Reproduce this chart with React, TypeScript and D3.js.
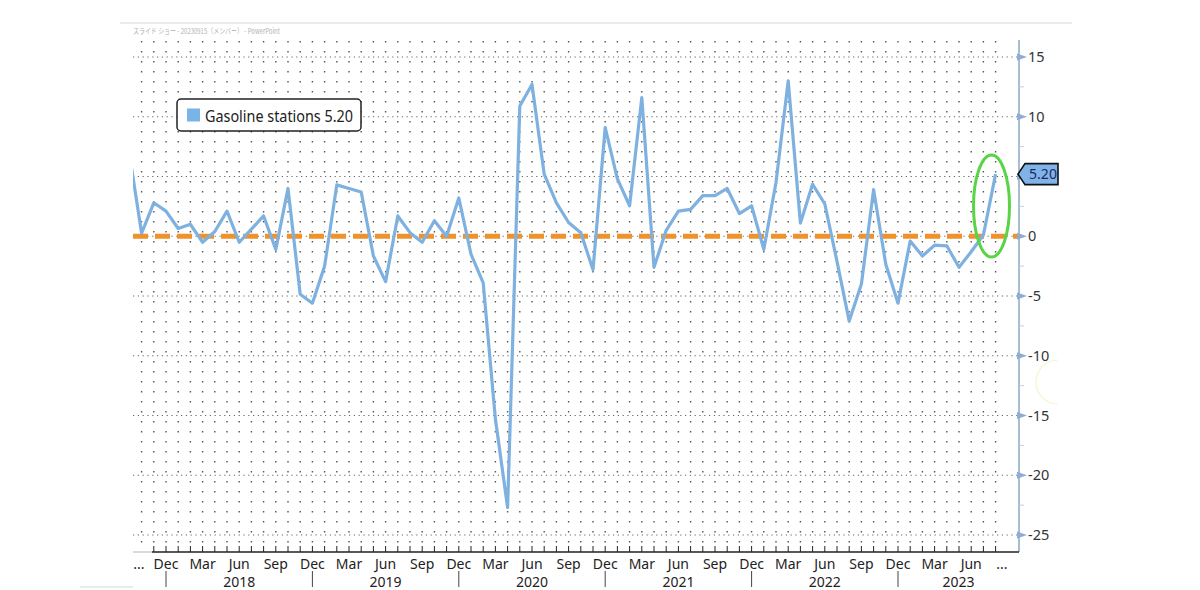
import React from "react";
import * as d3 from "d3";

// Months from Sep 2017 to Aug 2023 (index 0 = Sep 2017)
const startYear = 2017;
const startMonth = 8; // 0-based: September
const values: number[] = [
  6.9, 0.25, 2.8, 2.1,
  0.65, 1.0, -0.5, 0.4, 2.1, -0.5, 0.6, 1.7, -1.1, 4.0, -4.85, -5.6,
  -2.5, 4.3, 4.0, 3.7, -1.65, -3.8, 1.7, 0.3, -0.5, 1.3, 0.0, 3.2,
  -1.5, -3.9, -15.3, -22.7, 10.9, 12.7, 5.2, 2.8, 1.15, 0.3, -2.8, 9.1,
  4.8, 2.55, 11.6, -2.6, 0.5, 2.1, 2.25, 3.4, 3.4, 4.0, 1.9, 2.55,
  -1.1, 4.5, 13.0, 1.1, 4.35, 2.7, -2.1, -7.1, -4.0, 3.9, -2.35, -5.6,
  -0.4, -1.65, -0.75, -0.8, -2.6, -1.3, 0.1, 5.2,
];
const monthNames = ["Jan","Feb","Mar","Apr","May","Jun","Jul","Aug","Sep","Oct","Nov","Dec"];
const labelMonths = ["Dec", "Mar", "Jun", "Sep"];
const years = [2018, 2019, 2020, 2021, 2022, 2023];
const yTicks = [15, 10, 5, 0, -5, -10, -15, -20, -25];
const yTickLabels = [15, 10, 0, -5, -10, -15, -20, -25]; // the 5 label sits under the value tag
const yMinorTicks = [12.5, 7.5, 2.5, -2.5, -7.5, -12.5, -17.5, -22.5];
const seriesName = "Gasoline stations";
const lastValueLabel = "5.20";
const headerText = "スライド ショー - 20230915（メンバー） - PowerPoint";

const FONT = "'Noto Sans', 'Open Sans', sans-serif";

export default function App() {
  const left = 133, right = 1019, top = 40, bottom = 552;
  // index 3 = Dec 2017, index 63 = Dec 2022
  const x = d3.scaleLinear().domain([3, 63]).range([166, 898]);
  const y = d3.scaleLinear().domain([-25, 15]).range([535, 57]);

  const pts = values.map((v, i) => ({ i, v }));
  const line = d3.line<{ i: number; v: number }>().x(d => x(d.i)).y(d => y(d.v));

  const monthInfo = values.map((_, i) => {
    const m = (startMonth + i) % 12;
    const yr = startYear + Math.floor((startMonth + i) / 12);
    return { i, m, yr, name: monthNames[m] };
  });
  const visibleMonths = monthInfo.filter(d => x(d.i) >= left);
  const tickMonths = monthInfo.filter(d => x(d.i) >= 150);
  const labelled = monthInfo.filter(d => labelMonths.includes(d.name) && x(d.i) >= 150);
  const decs = monthInfo.filter(d => d.name === "Dec");

  const yearLabelX = (yr: number) => {
    const a = monthInfo.find(d => d.yr === yr - 1 && d.m === 11)!;
    const b = monthInfo.find(d => d.yr === yr && d.m === 11);
    const xa = x(a.i);
    const xb = b ? x(b.i) : right;
    return (xa + xb) / 2;
  };

  const last = pts[pts.length - 1];
  const lastY = y(last.v);
  const tagX = right - 1;

  const ellCx = (x(last.i) + x(last.i - 1)) / 2 + 2;

  return (
    <svg width={1200} height={590} style={{ position: "absolute", left: 0, top: 0, background: "#fff" }}>
      <defs>
        <clipPath id="plotClip">
          <rect x={left} y={top} width={right - left} height={bottom - top} />
        </clipPath>
      </defs>
      {/* frame lines */}
      <line x1={120} x2={1072} y1={23} y2={23} stroke="#d8d8d8" strokeWidth={1.2} />
      <line x1={80} x2={133} y1={587} y2={587} stroke="#d8d8d8" strokeWidth={1.2} />
      <text x={133} y={34} fontSize={7.5} fill="#b0b0b0" fontFamily="'Noto Sans CJK JP', sans-serif" textLength={147} lengthAdjust="spacingAndGlyphs">{headerText}</text>

      {/* vertical dotted month grid */}
      {visibleMonths.map(d => (
        <line key={"v" + d.i} x1={x(d.i)} x2={x(d.i)} y1={top + 1} y2={bottom - 6} stroke="#555" strokeWidth={1.4} strokeDasharray="1.4,8.6" />
      ))}
      {/* horizontal dotted major grid */}
      {yTicks.map(t => (
        <line key={"h" + t} x1={left} x2={right} y1={y(t)} y2={y(t)} stroke="#666" strokeWidth={1.2} strokeDasharray="1.2,3.6" />
      ))}

      {/* zero line */}
      <line x1={left} x2={right} y1={y(0)} y2={y(0)} stroke="#f0922b" strokeWidth={5} strokeDasharray="15,7" />

      {/* series line */}
      <g clipPath="url(#plotClip)">
        <path d={line(pts) || ""} fill="none" stroke="#7eb1df" strokeWidth={3.2} strokeLinejoin="round" />
      </g>

      {/* green highlight ellipse */}
      <ellipse cx={ellCx} cy={206} rx={18} ry={51} fill="none" stroke="#5ad447" strokeWidth={3} />

      {/* right axis */}
      <line x1={right} x2={right} y1={top} y2={bottom} stroke="#a8bdd4" strokeWidth={2} />
      {yMinorTicks.map(t => (
        <line key={"mt" + t} x1={right} x2={right + 5} y1={y(t)} y2={y(t)} stroke="#c4cfdc" strokeWidth={1} />
      ))}
      {yTicks.map(t => (
        <path key={"yt" + t} d={`M${right - 2},${y(t) - 3.5} L${right + 8},${y(t)} L${right - 2},${y(t) + 3.5} Z`} fill="#8fadd2" />
      ))}
      {yTickLabels.map(t => (
        <text key={"yl" + t} x={right + 9} y={y(t) + 5} fontSize={14.5} fill="#333" fontFamily={FONT}>{t < 0 ? "-" + Math.abs(t) : String(t)}</text>
      ))}

      {/* last value tag */}
      <path d={`M${tagX},${lastY} L${tagX + 7},${lastY - 10.5} L${1058},${lastY - 10.5} L${1058},${lastY + 10.5} L${tagX + 7},${lastY + 10.5} Z`} fill="#80b3e8" stroke="#111" strokeWidth={1.6} />
      <text x={1043} y={lastY + 5} fontSize={14} fill="#1c2a66" textAnchor="middle" fontFamily={FONT}>{lastValueLabel}</text>

      {/* bottom axis */}
      <line x1={left} x2={152} y1={bottom} y2={bottom} stroke="#cfcfcf" strokeWidth={1.5} />
      <line x1={152} x2={right} y1={bottom} y2={bottom} stroke="#222" strokeWidth={1.6} />
      {tickMonths.map(d => (
        <line key={"xt" + d.i} x1={x(d.i)} x2={x(d.i)} y1={bottom - 6} y2={bottom} stroke="#222" strokeWidth={1} />
      ))}
      {labelled.map(d => (
        <text key={"ml" + d.i} x={x(d.i)} y={569} fontSize={14} fill="#222" textAnchor="middle" fontFamily={FONT}>{d.name}</text>
      ))}
      <text x={139} y={569} fontSize={14} fill="#222" textAnchor="middle" fontFamily={FONT}>...</text>
      <text x={1002} y={569} fontSize={14} fill="#222" textAnchor="middle" fontFamily={FONT}>...</text>
      {decs.map(d => (
        <line key={"ys" + d.i} x1={x(d.i)} x2={x(d.i)} y1={571} y2={587} stroke="#444" strokeWidth={1} />
      ))}
      {years.map(yr => (
        <text key={"yr" + yr} x={yearLabelX(yr)} y={587} fontSize={14} fill="#222" textAnchor="middle" fontFamily={FONT}>{yr}</text>
      ))}

      {/* legend */}
      <rect x={177} y={99} width={184} height={32} rx={4} fill="#fff" stroke="#222" strokeWidth={1.5} />
      <rect x={187} y={108.5} width={13} height={13} fill="#7ab3e8" />
      <text x={205} y={121.5} fontSize={16} fill="#222" fontFamily={FONT} textLength={148} lengthAdjust="spacingAndGlyphs">{seriesName + " " + lastValueLabel}</text>

      {/* faint cursor arc */}
      <path d="M1058,360 A22,22 0 0,0 1058,404" fill="none" stroke="#f7f3cc" strokeWidth={1.2} />
    </svg>
  );
}
